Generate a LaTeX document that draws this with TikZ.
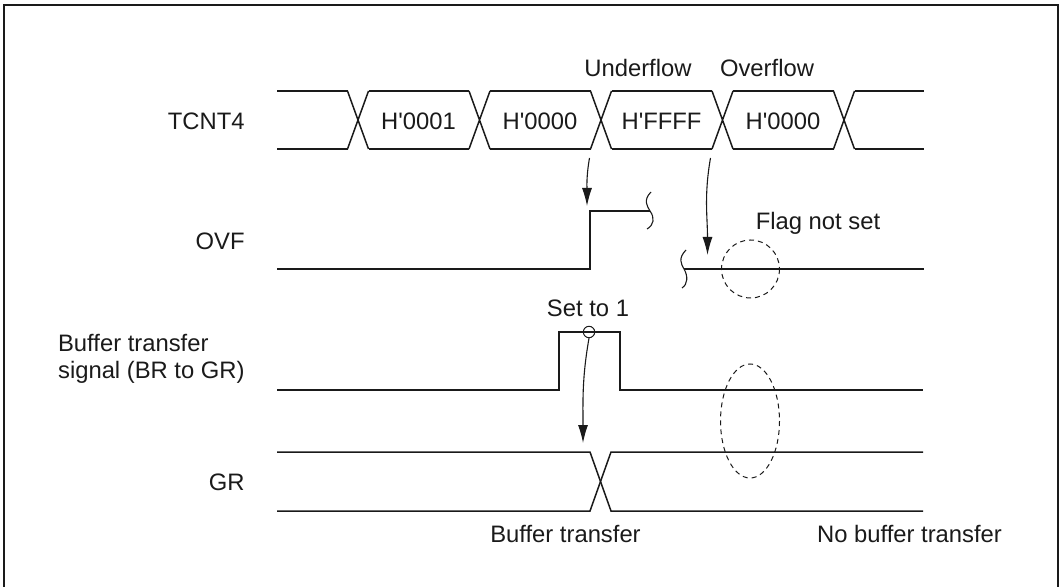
\documentclass[tikz,border=0pt]{standalone}
\usepackage{fontspec}
\setmainfont{Liberation Sans}
\usetikzlibrary{positioning, arrows.meta, calc}
\definecolor{tdink}{HTML}{1A1A1A}
\newcommand{\hval}[1]{H\textquotesingle #1}
\tikzset{
  sig/.style={line width=0.75pt, draw=tdink},
  lbl/.style={inner sep=0pt, text=tdink, font=\fontsize{11.9}{13.15}\selectfont},
  cue/.style={line width=0.55pt, draw=tdink, -{Latex[length=9pt,width=5pt]}},
  brk/.style={line width=0.55pt, draw=tdink},
  flagring/.style={line width=0.5pt, draw=tdink, dash pattern=on 2.5pt off 2pt},
}

\begin{document}
\begin{tikzpicture}[x=0.5pt, y=-0.5pt]
  \useasboundingbox (0,0) rectangle (1064,587);
  % frame (open at the bottom)
  \draw[line width=1pt, draw=tdink] (4,587) -- (4,5) -- (1058,5) -- (1058,587);

  % signal names
  \node[lbl, anchor=base east] (nTcnt) at (245,129.5) {TCNT4};
  \node[lbl, anchor=base east] (nOvf) at (245,249.5) {OVF};
  \node[lbl, anchor=east, align=left] (nBts) at (245,359) {Buffer transfer\\signal (BR to GR)};
  \node[lbl, anchor=base east] (nGr) at (245,490.5) {GR};

  % TCNT4 bus
  \foreach \a/\b in {277/347.5, 368.5/469, 490/590.5, 611.5/712, 733/833.5, 854.5/924}
    \draw[sig] (\a,91) -- (\b,91) (\a,149) -- (\b,149);
  \foreach \cx in {358, 479.5, 601, 722.5, 844}
    \draw[sig] (\cx-10.5,91) -- (\cx+10.5,149) (\cx-10.5,149) -- (\cx+10.5,91);
  \node[lbl, anchor=base] (vOne)  at (418.5,129.5) {\hval{0001}};
  \node[lbl, anchor=base] (vZero) at (540,129.5)   {\hval{0000}};
  \node[lbl, anchor=base] (vFull) at (661.5,129.5) {\hval{FFFF}};
  \node[lbl, anchor=base] (vWrap) at (783,129.5)   {\hval{0000}};
  \node[lbl, anchor=base] (tUnder) at (638,76.7) {Underflow};
  \node[lbl, anchor=base] (tOver)  at (767,76.7) {Overflow};

  % OVF
  \draw[sig] (277,269) -- (590,269) -- (590,211) -- (650,211);
  \draw[sig] (684,269) -- (924,269);
  \draw[brk] (651,192) .. controls (643,200) and (647,206) .. (650,211)
                       .. controls (655,218) and (654,225) .. (647,229);
  \draw[brk] (686,250) .. controls (678,258) and (681,264) .. (684,269)
                       .. controls (688,276) and (688,284) .. (682,288);
  \draw[flagring] (750.5,269) circle[radius=29];
  \node[lbl, anchor=base] (tFlag) at (818,230) {Flag not set};

  % buffer transfer signal
  \draw[sig] (277,390) -- (559,390) -- (559,332) -- (620,332) -- (620,390) -- (923,390);
  \node[lbl, anchor=base] (tSet) at (588,316.7) {Set to 1};
  \node[circle, draw=tdink, line width=0.5pt, inner sep=0pt, minimum size=5.7pt] (setPt) at (589,332) {};

  % GR
  \draw[sig] (277,452) -- (590,452) -- (611,511) -- (923,511);
  \draw[sig] (277,511) -- (590,511) -- (611,452) -- (923,452);
  \draw[flagring] (750,421) ellipse[x radius=29.5, y radius=57];
  \node[lbl, anchor=base] (tXfer)   at (565.5,542) {Buffer transfer};
  \node[lbl, anchor=base] (tNoXfer) at (909.5,542) {No buffer transfer};

  % cause arrows
  \coordinate (uTail) at (589.5,158);
  \coordinate (uHead) at (587,206);
  \coordinate (oTail) at (710.5,158);
  \coordinate (oHead) at (707.5,255);
  \coordinate (gHead) at (583,443);
  \draw[cue] (uTail) to[out=-100, in=90] (uHead);
  \draw[cue] (oTail) to[out=-100, in=90] (oHead);
  \draw[cue] (setPt.south) to[out=-100, in=90] (gHead);
\end{tikzpicture}
\end{document}
